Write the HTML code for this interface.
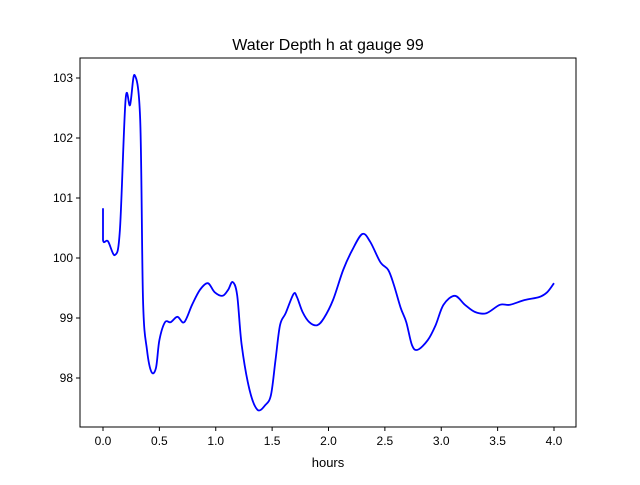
<!DOCTYPE html>
<html><head><meta charset="utf-8"><style>
body{margin:0;background:#fff;font-family:"Liberation Sans","DejaVu Sans",sans-serif}
</style></head><body>
<svg id="chart" width="640" height="480" xmlns="http://www.w3.org/2000/svg">
<rect width="640" height="480" fill="#fff"/>
<text x="328" y="50" text-anchor="middle" font-size="16">Water Depth h at gauge 99</text>
<g id="axes"></g>
<text x="328" y="467" text-anchor="middle" font-size="13">hours</text>
</svg>
<script>
const hours=[0,0,0.044,0.106,0.15,0.2,0.24,0.28,0.33,0.355,0.39,0.43,0.47,0.5,0.55,0.6,0.66,0.72,0.79,0.86,0.93,0.99,1.06,1.11,1.15,1.19,1.23,1.3,1.37,1.44,1.49,1.53,1.57,1.62,1.69,1.72,1.77,1.83,1.9,1.96,2.04,2.13,2.21,2.3,2.37,2.46,2.53,2.58,2.64,2.69,2.74,2.79,2.88,2.95,3.02,3.12,3.21,3.3,3.4,3.52,3.61,3.74,3.87,3.94,4.0];
const depth=[100.83,100.3,100.28,100.05,100.47,102.63,102.55,103.05,102.3,99.3,98.47,98.1,98.17,98.63,98.93,98.93,99.02,98.93,99.22,99.47,99.58,99.43,99.37,99.47,99.6,99.38,98.55,97.8,97.47,97.55,97.72,98.3,98.88,99.08,99.4,99.35,99.1,98.93,98.88,99.0,99.3,99.8,100.13,100.4,100.27,99.93,99.8,99.55,99.17,98.93,98.55,98.47,98.63,98.88,99.22,99.37,99.22,99.1,99.08,99.22,99.22,99.3,99.35,99.43,99.58];
const xTicks=[0,0.5,1,1.5,2,2.5,3,3.5,4];
const xTickLabels=["0.0","0.5","1.0","1.5","2.0","2.5","3.0","3.5","4.0"];
const yTicks=[98,99,100,101,102,103];
const yTickLabels=["98","99","100","101","102","103"];
const L=80,R=576,T=58,B=427;
const xs=v=>103+v*112.75;
const ys=v=>378-(v-98)*60;
const NS="http://www.w3.org/2000/svg";
const g=document.getElementById('axes');
function mk(t,a){const e=document.createElementNS(NS,t);for(const k in a)e.setAttribute(k,a[k]);g.appendChild(e);return e;}
const fr=mk('rect',{x:L,y:T,width:R-L,height:B-T,fill:'none',stroke:'#000','stroke-width':1});


xTicks.forEach((v,i)=>{const x=xs(v);
 const t=mk('line',{x1:x,x2:x,y1:B,y2:B+4,stroke:'#000'});
 
 
 const l=mk('text',{x:x,y:B+18,'text-anchor':'middle','font-size':12});l.textContent=xTickLabels[i];
 
 });
yTicks.forEach((v,i)=>{const y=ys(v);
 const t=mk('line',{x1:L-4,x2:L,y1:y,y2:y,stroke:'#000'});
 
 
 const l=mk('text',{x:L-7,y:y+4,'text-anchor':'end','font-size':12});l.textContent=yTickLabels[i];
 
 });
const pts=hours.map((h,i)=>[xs(h),ys(depth[i])]);
let d='M'+pts[0][0]+','+pts[0][1];
for(let i=0;i<pts.length-1;i++){const p0=pts[Math.max(i-1,0)],p1=pts[i],p2=pts[i+1],p3=pts[Math.min(i+2,pts.length-1)];
 if(i===0){d+=' L'+p2[0]+','+p2[1];continue;}
 const c1=[p1[0]+(p2[0]-p0[0])/6,p1[1]+(p2[1]-p0[1])/6],c2=[p2[0]-(p3[0]-p1[0])/6,p2[1]-(p3[1]-p1[1])/6];
 d+=' C'+c1+' '+c2+' '+p2;}
const line=mk('path',{d:d,fill:'none',stroke:'#0000ff','stroke-width':1.8});


</script>
</body></html>
